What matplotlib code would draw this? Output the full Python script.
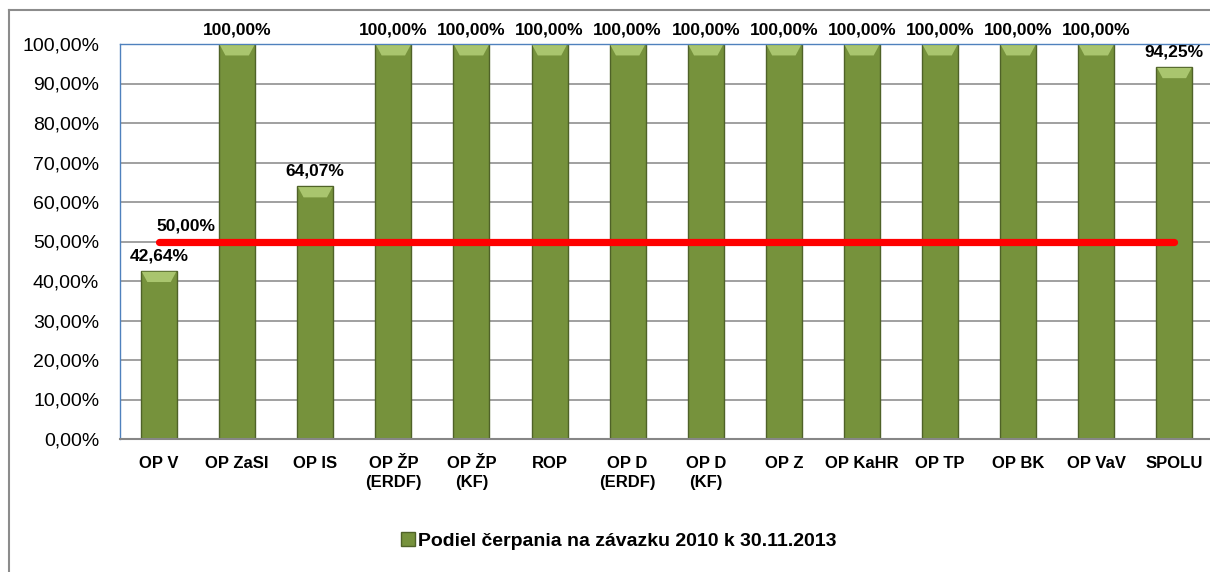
import matplotlib
matplotlib.use("Agg")
import matplotlib.pyplot as plt
from matplotlib.lines import Line2D
from matplotlib.patches import Patch, Polygon

categories = ["OP V", "OP ZaSI", "OP IS", "OP ŽP\n(ERDF)", "OP ŽP\n(KF)", "ROP",
              "OP D\n(ERDF)", "OP D\n(KF)", "OP Z", "OP KaHR", "OP TP", "OP BK",
              "OP VaV", "SPOLU"]
podiel = [42.64, 100.00, 64.07, 100.00, 100.00, 100.00, 100.00, 100.00,
          100.00, 100.00, 100.00, 100.00, 100.00, 94.25]
hranica = [50.00] * len(categories)
y_ticks = list(range(0, 101, 10))
legend_label = "Podiel čerpania na závazku 2010 k 30.11.2013"


def pct(v):
    return f"{v:.2f}".replace(".", ",") + "%"


plt.rcParams["font.family"] = ["Liberation Sans", "DejaVu Sans"]

fig = plt.figure(figsize=(12.1, 5.72), dpi=100)
ax = fig.add_axes([120 / 1210, 133 / 572, 1093.4 / 1210, 395 / 572])

x = list(range(len(categories)))
bar_w = 0.46

ax.set_axisbelow(True)
ax.yaxis.grid(True, color="#868686", linewidth=1.1)
bars = ax.bar(x, podiel, width=bar_w, color="#76923C", edgecolor="#4F6228",
              linewidth=1.0, zorder=2)

# bevel look: light chevron at the top of each bar
for xi, v in zip(x, podiel):
    left, right = xi - bar_w / 2 + 0.01, xi + bar_w / 2 - 0.01
    top = v - 0.3
    bev = Polygon([(left, top), (right, top), (right - 0.07, top - 2.6),
                   (left + 0.07, top - 2.6)], closed=True,
                  facecolor="#A9C56E", edgecolor="none", zorder=3)
    ax.add_patch(bev)

ax.plot(x, hranica, color="#FF0000", linewidth=5.2, solid_capstyle="round", zorder=4)

for xi, v in zip(x, podiel):
    ax.annotate(pct(v), (xi, v), xytext=(0, 5), textcoords="offset points",
                ha="center", va="bottom", fontsize=12.5, fontweight="bold",
                annotation_clip=False)
ax.annotate(pct(hranica[0]), (x[0], hranica[0]), xytext=(19, 6),
            textcoords="offset points", ha="center", va="bottom",
            fontsize=12.5, fontweight="bold")

ax.set_xlim(-0.5, len(categories) - 0.5)
ax.set_ylim(0, 100)
ax.set_yticks(y_ticks)
ax.set_yticklabels([pct(t) for t in y_ticks], fontsize=14)
ax.set_xticks(x)
ax.set_xticklabels(categories, fontsize=12, fontweight="bold", linespacing=1.35)
ax.tick_params(axis="y", length=0, pad=15)
ax.tick_params(axis="x", length=0, pad=12)

for side in ["left", "top"]:
    ax.spines[side].set_color("#4F81BD")
    ax.spines[side].set_linewidth(1.0)
ax.spines["bottom"].set_color("#868686")
ax.spines["bottom"].set_linewidth(1.5)
ax.spines["right"].set_visible(False)

# outer chart frame (only top and left edges visible)
fig.add_artist(Line2D([9 / 1210, 1.0], [1 - 10 / 572, 1 - 10 / 572],
                      transform=fig.transFigure, color="#8C8C8C", linewidth=1.5))
fig.add_artist(Line2D([9 / 1210, 9 / 1210], [0, 1 - 10 / 572],
                      transform=fig.transFigure, color="#8C8C8C", linewidth=1.5))

handle = Patch(facecolor="#76923C", edgecolor="#4F6228")
fig.legend([handle], [legend_label], loc="center", bbox_to_anchor=(619 / 1210, 1 - 541 / 572),
           frameon=False, prop={"size": 14, "weight": "bold"},
           handlelength=0.7, handleheight=0.7, handletextpad=0.15)

fig.savefig("out.png", dpi=100)
